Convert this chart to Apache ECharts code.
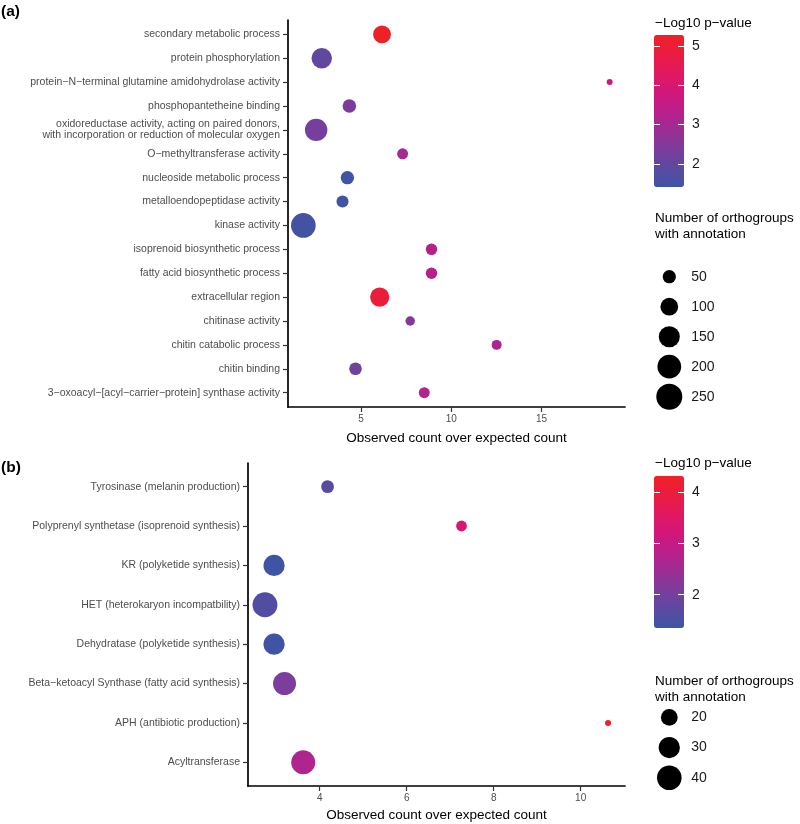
<!DOCTYPE html>
<html>
<head>
<meta charset="utf-8">
<script src="https://cdn.jsdelivr.net/npm/echarts@6/dist/echarts.min.js"></script>
<style>
html,body{margin:0;padding:0;background:#fff;}
#chart{width:800px;height:824px;}
</style>
</head>
<body>
<div id="chart"></div>
<script>
// ---------- Panel (a) data ----------
var catsA = [
  "secondary metabolic process",
  "protein phosphorylation",
  "protein\u2212N\u2212terminal glutamine amidohydrolase activity",
  "phosphopantetheine binding",
  "oxidoreductase activity, acting on paired donors,\nwith incorporation or reduction of molecular oxygen",
  "O\u2212methyltransferase activity",
  "nucleoside metabolic process",
  "metalloendopeptidase activity",
  "kinase activity",
  "isoprenoid biosynthetic process",
  "fatty acid biosynthetic process",
  "extracellular region",
  "chitinase activity",
  "chitin catabolic process",
  "chitin binding",
  "3\u2212oxoacyl\u2212[acyl\u2212carrier\u2212protein] synthase activity"
];
var ratioA = [6.16, 2.82, 18.77, 4.35, 2.51, 7.30, 4.24, 3.97, 1.80, 8.90, 8.90, 6.03, 7.72, 12.51, 4.69, 8.50];
var pA     = [5.28, 2.00, 3.80, 2.40, 2.30, 3.00, 1.45, 1.41, 1.50, 3.30, 3.30, 4.90, 2.50, 3.10, 2.20, 3.20];
var nA     = [100, 140, 20, 53, 175, 34, 51, 41, 220, 37, 37, 120, 27, 29, 45, 34];
var xTicksA = [5, 10, 15];
var colorTicksA = [2, 3, 4, 5];
var sizeLegendA = [50, 100, 150, 200, 250];

// ---------- Panel (b) data ----------
var catsB = [
  "Tyrosinase (melanin production)",
  "Polyprenyl synthetase (isoprenoid synthesis)",
  "KR (polyketide synthesis)",
  "HET (heterokaryon incompatbility)",
  "Dehydratase (polyketide synthesis)",
  "Beta\u2212ketoacyl Synthase (fatty acid synthesis)",
  "APH (antibiotic production)",
  "Acyltransferase"
];
var ratioB = [4.18, 7.26, 2.95, 2.74, 2.95, 3.19, 10.63, 3.62];
var pB     = [1.70, 3.30, 1.35, 1.60, 1.38, 2.10, 4.32, 2.70];
var nB     = [14, 12, 30, 41, 30, 35, 10, 38];
var xTicksB = [4, 6, 8, 10];
var colorTicksB = [2, 3, 4];
var sizeLegendB = [20, 30, 40];

// ---------- styling ----------
var FONT = "'Liberation Sans', Arial, Helvetica, sans-serif";
var palette = ['#3F54A5', '#5B4AA0', '#7B3D9C', '#9C2D93', '#BA1F8A', '#D2177A', '#E21860', '#EB1C40', '#EE2127'];
var sizeA = function (n) { return 2 * (3 + 0.66 * Math.sqrt(Math.max(n - 20, 0))); };
var sizeB = function (n) { return 2 * (3 + 1.7 * Math.sqrt(Math.max(n - 10, 0))); };

function rng(arr) { return arr.map(function (_, i) { return i; }); }

var dataA = ratioA.map(function (x, i) { return [x, i, pA[i], nA[i]]; });
var dataB = ratioB.map(function (x, i) { return [x, i, pB[i], nB[i]]; });

function mainY(gi, cats) {
  var idx = rng(cats);
  return {
    type: 'value', gridIndex: gi, inverse: true, min: -0.6, max: cats.length - 1 + 0.6,
    splitLine: { show: false },
    axisLine: { show: true, lineStyle: { color: '#000', width: 1.7 } },
    axisTick: { show: true, length: 5, lineStyle: { color: '#333', width: 1.2 }, customValues: idx },
    axisLabel: {
      show: true, customValues: idx, margin: 8, fontFamily: FONT, fontSize: 10.5, color: '#4D4D4D', lineHeight: 11,
      formatter: function (v) { return cats[Math.round(v)]; }
    }
  };
}
function mainX(gi, mn, mx, ticks, gap) {
  return {
    type: 'value', gridIndex: gi, min: mn, max: mx,
    name: 'Observed count over expected count', nameLocation: 'middle', nameGap: gap,
    nameTextStyle: { fontFamily: FONT, fontSize: 13.5, color: '#000' },
    splitLine: { show: false },
    axisLine: { show: true, onZero: false, lineStyle: { color: '#000', width: 1.7 } },
    axisTick: { show: true, length: 5, lineStyle: { color: '#333', width: 1.2 }, customValues: ticks },
    axisLabel: { show: true, customValues: ticks, margin: 7, fontFamily: FONT, fontSize: 10, color: '#4D4D4D' }
  };
}
function hiddenX(gi, mn, mx) {
  return { type: 'value', gridIndex: gi, min: mn, max: mx, show: false };
}
function cbarY(gi, mn, mx, ticks, pos, showLabel) {
  return {
    type: 'value', gridIndex: gi, min: mn, max: mx, position: pos, z: 10,
    splitLine: { show: false },
    axisLine: { show: false },
    axisTick: { show: true, inside: true, length: 6, lineStyle: { color: '#fff', width: 1 }, customValues: ticks },
    axisLabel: { show: showLabel, customValues: ticks, margin: 8, fontFamily: FONT, fontSize: 14, color: '#1A1A1A' }
  };
}
function sizeY(gi, vals) {
  return {
    type: 'category', gridIndex: gi, inverse: true, position: 'right', boundaryGap: true,
    data: vals.map(String),
    splitLine: { show: false }, axisLine: { show: false }, axisTick: { show: false },
    axisLabel: { show: true, margin: 7, fontFamily: FONT, fontSize: 14, color: '#1A1A1A' }
  };
}

var option = {
  animation: false,
  backgroundColor: '#fff',
  title: [
    { text: '(a)', left: 1, top: 4, padding: 0, textStyle: { fontFamily: FONT, fontSize: 15.5, fontWeight: 'bold', color: '#000' } },
    { text: '(b)', left: 1, top: 460, padding: 0, textStyle: { fontFamily: FONT, fontSize: 15.5, fontWeight: 'bold', color: '#000' } },
    { text: '\u2212Log10 p\u2212value', left: 655, top: 16, padding: 0, textStyle: { fontFamily: FONT, fontSize: 13.5, fontWeight: 'normal', color: '#000' } },
    { text: '\u2212Log10 p\u2212value', left: 655, top: 456, padding: 0, textStyle: { fontFamily: FONT, fontSize: 13.5, fontWeight: 'normal', color: '#000' } },
    { text: 'Number of orthogroups\nwith annotation', left: 655, top: 211, padding: 0, textStyle: { fontFamily: FONT, fontSize: 13.5, fontWeight: 'normal', color: '#000', lineHeight: 15.5 } },
    { text: 'Number of orthogroups\nwith annotation', left: 655, top: 674, padding: 0, textStyle: { fontFamily: FONT, fontSize: 13.5, fontWeight: 'normal', color: '#000', lineHeight: 15.5 } }
  ],
  grid: [
    { left: 288, top: 20, width: 337, height: 387 },          // 0 panel a
    { left: 248, top: 463, width: 377, height: 323 },         // 1 panel b
    { left: 654, top: 35, width: 30, height: 152 },           // 2 colorbar a axes
    { left: 654, top: 476, width: 30, height: 152 },          // 3 colorbar b axes
    { left: 654.3, top: 261.7, width: 30, height: 150 },      // 4 size legend a
    { left: 654.3, top: 702.3, width: 30, height: 90.6 }      // 5 size legend b
  ],
  xAxis: [
    mainX(0, 0.95, 19.62, xTicksA, 24),
    mainX(1, 2.35, 11.02, xTicksB, 22),
    hiddenX(2, 0, 1),
    hiddenX(3, 0, 1),
    hiddenX(4, -1, 1),
    hiddenX(5, -1, 1)
  ],
  yAxis: [
    mainY(0, catsA),
    mainY(1, catsB),
    cbarY(2, 1.41, 5.28, colorTicksA, 'left', false),
    cbarY(2, 1.41, 5.28, colorTicksA, 'right', true),
    cbarY(3, 1.35, 4.32, colorTicksB, 'left', false),
    cbarY(3, 1.35, 4.32, colorTicksB, 'right', true),
    sizeY(4, sizeLegendA),
    sizeY(5, sizeLegendB)
  ],
  visualMap: [
    {
      type: 'continuous', seriesIndex: 0, dimension: 2, min: 1.41, max: 5.28,
      left: 654, top: 35, itemWidth: 30, itemHeight: 152, padding: 0,
      calculable: false, showLabel: false, text: ['', ''], textGap: 0,
      inRange: { color: palette }, z: 2
    },
    {
      type: 'continuous', seriesIndex: 1, dimension: 2, min: 1.35, max: 4.32,
      left: 654, top: 476, itemWidth: 30, itemHeight: 152, padding: 0,
      calculable: false, showLabel: false, text: ['', ''], textGap: 0,
      inRange: { color: palette }, z: 2
    }
  ],
  series: [
    {
      type: 'scatter', xAxisIndex: 0, yAxisIndex: 0, data: dataA,
      symbolSize: function (v) { return sizeA(v[3]); },
      itemStyle: { opacity: 1 }, emphasis: { disabled: true }
    },
    {
      type: 'scatter', xAxisIndex: 1, yAxisIndex: 1, data: dataB,
      symbolSize: function (v) { return sizeB(v[3]); },
      itemStyle: { opacity: 1 }, emphasis: { disabled: true }
    },
    {
      type: 'scatter', xAxisIndex: 4, yAxisIndex: 6,
      data: sizeLegendA.map(function (n, i) { return [0, i, n]; }),
      symbolSize: function (v) { return sizeA(v[2]); },
      itemStyle: { color: '#000', opacity: 1 }, emphasis: { disabled: true }
    },
    {
      type: 'scatter', xAxisIndex: 5, yAxisIndex: 7,
      data: sizeLegendB.map(function (n, i) { return [0, i, n]; }),
      symbolSize: function (v) { return sizeB(v[2]); },
      itemStyle: { color: '#000', opacity: 1 }, emphasis: { disabled: true }
    }
  ]
};

var chart = echarts.init(document.getElementById('chart'), null, { renderer: 'canvas' });
chart.setOption(option);
</script>
</body>
</html>
